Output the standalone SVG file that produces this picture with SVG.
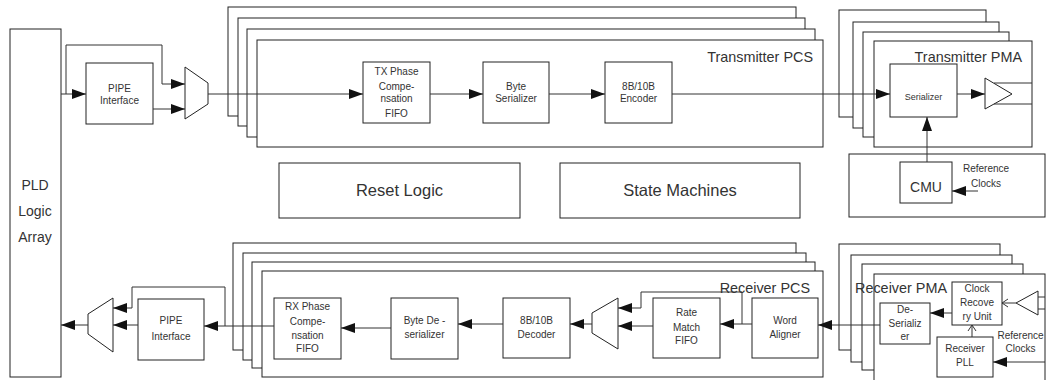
<svg xmlns="http://www.w3.org/2000/svg" width="1050" height="380" viewBox="0 0 1050 380">
<style>
.box{fill:#fff;stroke:#222;stroke-width:1}
.ln{fill:none;stroke:#333;stroke-width:1}
.arr{marker-end:url(#ah)}
.oarr{marker-end:url(#oh)}
text{font-family:"Liberation Sans",Arial,sans-serif;fill:#333;text-anchor:middle}
.s{font-size:10px}
.xs{font-size:9px}
.m{font-size:14px}
.t{font-size:14.4px;text-anchor:end}
.l{font-size:16.5px}
</style>
<defs>
<marker id="ah" markerUnits="userSpaceOnUse" markerWidth="14" markerHeight="10" refX="14" refY="5" orient="auto"><path d="M0,0 L14,5 L0,10 z" fill="#111"/></marker>
<marker id="oh" markerUnits="userSpaceOnUse" markerWidth="7" markerHeight="10" refX="6" refY="5" orient="auto"><path d="M0,1 L6,5 L0,9" fill="none" stroke="#333" stroke-width="1"/></marker>
</defs>
<rect width="1050" height="380" fill="#fff"/>

<g id="pld">
<rect class="box" x="10" y="29" width="51" height="348"/>
<text class="m" x="35" y="190">PLD</text>
<text class="m" x="35" y="216">Logic</text>
<text class="m" x="35" y="242">Array</text>
</g>

<g id="tx-pcs">
<rect class="box" x="228" y="7" width="568" height="109"/>
<rect class="box" x="238" y="18" width="567" height="108"/>
<rect class="box" x="247" y="29" width="568" height="108"/>
<rect class="box" x="257" y="40" width="566" height="107"/>
<text class="t" x="813" y="62">Transmitter PCS</text>
</g>

<g id="tx-pma">
<rect class="box" x="839" y="10" width="147" height="107"/>
<rect class="box" x="853" y="22" width="146" height="106"/>
<rect class="box" x="863" y="32" width="146" height="105"/>
<rect class="box" x="874" y="41" width="158" height="106"/>
<text class="t" x="1022" y="62">Transmitter PMA</text>
</g>

<g id="rx-pcs">
<rect class="box" x="233" y="243" width="563" height="107"/>
<rect class="box" x="243" y="253" width="563" height="107"/>
<rect class="box" x="252" y="262" width="563" height="106"/>
<rect class="box" x="262" y="271" width="561" height="106"/>
<text class="t" x="810" y="293">Receiver PCS</text>
</g>

<g id="rx-pma">
<rect class="box" x="839" y="244" width="161" height="106"/>
<rect class="box" x="851" y="255" width="161" height="107"/>
<rect class="box" x="862" y="264" width="161" height="106"/>
<rect class="box" x="874" y="274" width="171" height="112"/>
<text class="t" x="947" y="293">Receiver PMA</text>
</g>

<g id="tx-pipe">
<rect class="box" x="86" y="63" width="67" height="61"/>
<text class="s" x="119.5" y="92">PIPE</text>
<text class="s" x="119.5" y="104">Interface</text>
</g>
<g id="tx-mux"><polygon class="box" points="185,67 208,83 208,104 185,119"/></g>

<g id="tx-fifo">
<rect class="box" x="363" y="62" width="67" height="61"/>
<text class="s" x="396.5" y="75">TX Phase</text>
<text class="s" x="396.5" y="90">Compe-</text>
<text class="s" x="396.5" y="102">nsation</text>
<text class="s" x="396.5" y="117">FIFO</text>
</g>
<g id="byte-ser">
<rect class="box" x="483" y="62" width="66" height="61"/>
<text class="s" x="516" y="90">Byte</text>
<text class="s" x="516" y="102">Serializer</text>
</g>
<g id="encoder">
<rect class="box" x="605" y="62" width="67" height="61"/>
<text class="s" x="638.5" y="90">8B/10B</text>
<text class="s" x="638.5" y="102">Encoder</text>
</g>
<g id="serializer">
<rect class="box" x="890" y="64" width="67" height="53"/>
<text class="xs" x="923.5" y="100">Serializer</text>
</g>
<g id="tx-buf"><polygon class="box" points="985,78 1012,94 985,109"/></g>

<g id="reset-logic">
<rect class="box" x="279" y="163" width="241" height="55"/>
<text class="l" x="399.5" y="196">Reset Logic</text>
</g>
<g id="state-machines">
<rect class="box" x="560" y="163" width="240" height="55"/>
<text class="l" x="680" y="196">State Machines</text>
</g>
<g id="cmu-block">
<rect class="box" x="849" y="154" width="196" height="63"/>
<rect class="box" x="900" y="162" width="52" height="41"/>
<text class="m" x="926" y="192">CMU</text>
<text class="s" x="986" y="172">Reference</text>
<text class="s" x="986" y="187">Clocks</text>
</g>

<g id="rx-pipe">
<rect class="box" x="138" y="299" width="66" height="61"/>
<text class="s" x="171" y="324">PIPE</text>
<text class="s" x="171" y="340">Interface</text>
</g>
<g id="rx-mux-pld"><polygon class="box" points="113,298 88,314 88,334 113,352"/></g>
<g id="rx-fifo">
<rect class="box" x="274" y="298" width="67" height="61"/>
<text class="s" x="307.5" y="310">RX Phase</text>
<text class="s" x="307.5" y="325">Compe-</text>
<text class="s" x="307.5" y="339">nsation</text>
<text class="s" x="307.5" y="352">FIFO</text>
</g>
<g id="byte-deser">
<rect class="box" x="391" y="298" width="67" height="61"/>
<text class="s" x="424.5" y="324">Byte De -</text>
<text class="s" x="424.5" y="338">serializer</text>
</g>
<g id="decoder">
<rect class="box" x="503" y="298" width="67" height="60"/>
<text class="s" x="536.5" y="324">8B/10B</text>
<text class="s" x="536.5" y="338">Decoder</text>
</g>
<g id="rx-mux"><polygon class="box" points="618,298 592,313 592,333 618,349"/></g>
<g id="rate-match">
<rect class="box" x="653" y="298" width="67" height="60"/>
<text class="s" x="686.5" y="316">Rate</text>
<text class="s" x="686.5" y="331">Match</text>
<text class="s" x="686.5" y="344">FIFO</text>
</g>
<g id="word-aligner">
<rect class="box" x="752" y="298" width="66" height="60"/>
<text class="s" x="785" y="324">Word</text>
<text class="s" x="785" y="338">Aligner</text>
</g>
<g id="deser">
<rect class="box" x="880" y="303" width="50" height="41"/>
<text class="s" x="905" y="313">De-</text>
<text class="s" x="905" y="327">Serializ</text>
<text class="s" x="905" y="340">er</text>
</g>
<g id="cru">
<rect class="box" x="952" y="282" width="50" height="43"/>
<text class="s" x="977" y="292">Clock</text>
<text class="s" x="977" y="306">Recove</text>
<text class="s" x="977" y="320">ry Unit</text>
</g>
<g id="rx-pll">
<rect class="box" x="937" y="337" width="56" height="40"/>
<text class="s" x="965" y="352">Receiver</text>
<text class="s" x="965" y="366">PLL</text>
</g>
<g id="rx-buf"><polygon class="box" points="1038,291 1016,303 1038,315"/></g>
<g id="rx-refclk">
<text class="s" x="1020.5" y="339">Reference</text>
<text class="s" x="1020.5" y="352">Clocks</text>
</g>

<g id="connectors">
<path class="ln arr" d="M61,94 H86"/>
<path class="ln arr" d="M66,94 V45 H162 V84 H185"/>
<path class="ln arr" d="M153,109 H185"/>
<path class="ln arr" d="M208,94 H363"/>
<path class="ln arr" d="M430,94 H483"/>
<path class="ln arr" d="M549,94 H605"/>
<path class="ln arr" d="M672,94 H890"/>
<path class="ln arr" d="M957,94 H985"/>
<path class="ln arr" d="M927,162 V117"/>
<path class="ln arr" d="M978,191 H952"/>
<path class="ln" d="M994,83 H1032 M994,104 H1032"/>
<path class="ln" d="M1038,297 H1045 M1038,309 H1045"/>
<path class="ln oarr" d="M1016,303 H1002"/>
<path class="ln oarr" d="M972,337 V325"/>
<path class="ln arr" d="M1045,362 H993"/>
<path class="ln arr" d="M952,313 H930"/>
<path class="ln arr" d="M880,325 H818"/>
<path class="ln arr" d="M752,324 H720"/>
<path class="ln arr" d="M742,324 V292 H641 V308 H618"/>
<path class="ln arr" d="M653,326 H618"/>
<path class="ln arr" d="M592,324 H570"/>
<path class="ln arr" d="M503,324 H458"/>
<path class="ln arr" d="M391,328 H341"/>
<path class="ln arr" d="M274,326 H204"/>
<path class="ln arr" d="M225,326 V287 H132 V308 H113"/>
<path class="ln arr" d="M138,325 H113"/>
<path class="ln arr" d="M88,325 H61"/>
</g>
</svg>
